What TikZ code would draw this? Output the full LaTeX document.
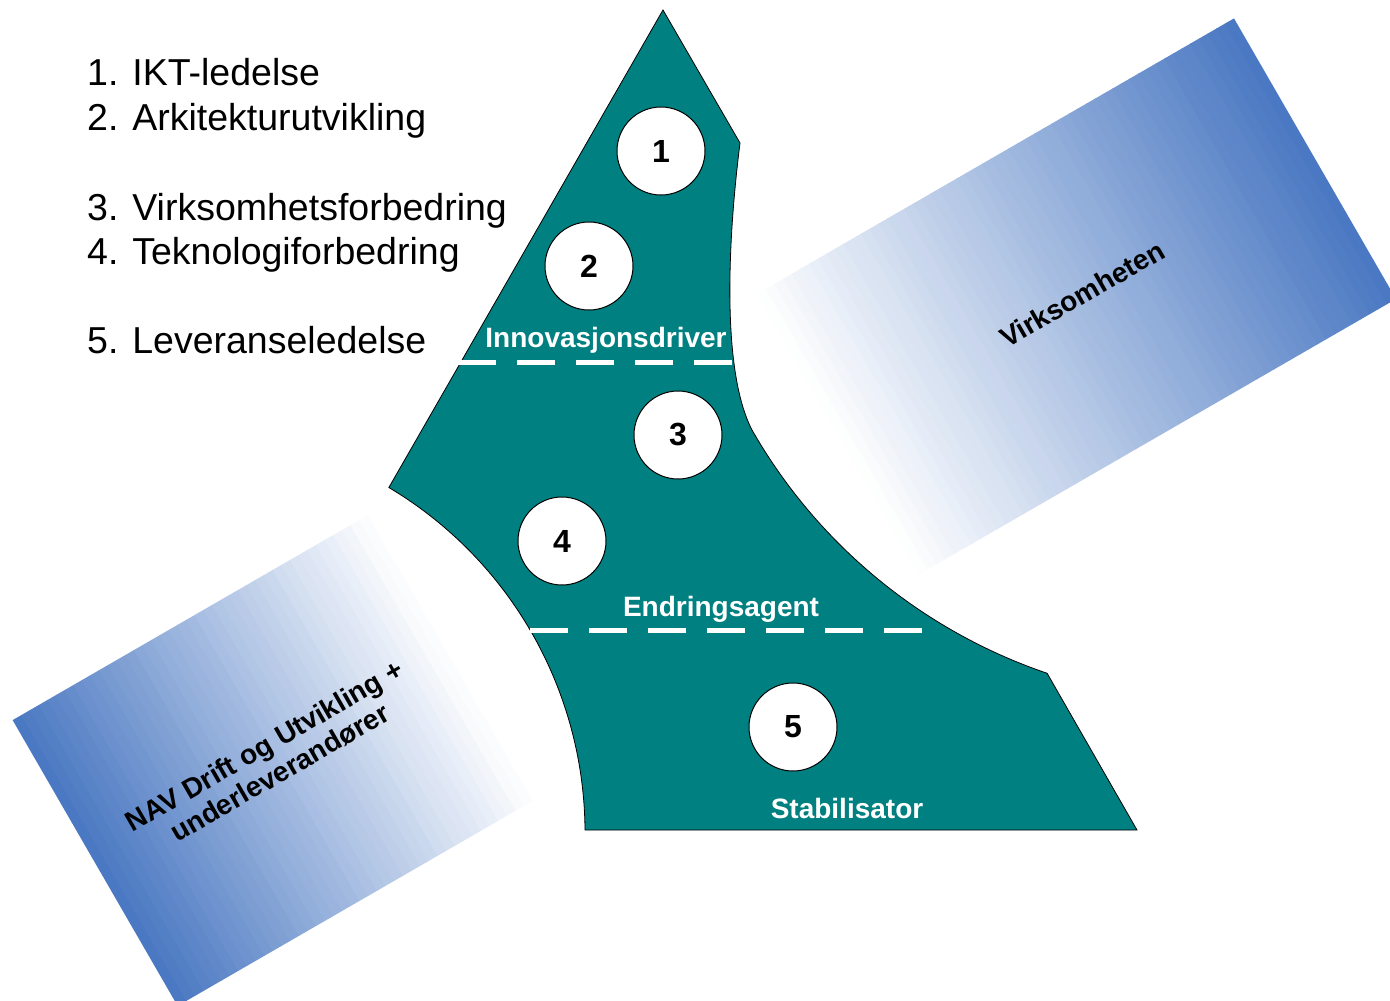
\documentclass[tikz,border=0pt]{standalone}
\usepackage{fontspec}
\setmainfont{Liberation Sans}
\usetikzlibrary{positioning}
\definecolor{navteal}{HTML}{008080}
\definecolor{bandblue}{HTML}{4A78C2}

\begin{document}
\begin{tikzpicture}[x=1pt,y=-1pt,
      bandtext/.style={rotate=30, inner sep=0pt, align=center, font=\fontsize{28}{31}\selectfont\bfseries},
      role/.style={circle, draw=black, line width=1pt, fill=white, minimum size=88pt, inner sep=0pt, font=\fontsize{32}{32}\selectfont\bfseries},
      phase/.style={text=white, anchor=base, inner sep=0pt, font=\fontsize{28}{28}\selectfont\bfseries},
      item/.style={anchor=base west, inner sep=0pt, font=\fontsize{37.5}{40}\selectfont},
      divider/.style={draw=white, line width=5pt, dash pattern=on 38pt off 21pt}
      ]
      \useasboundingbox (0,0) rectangle (1390,1001);
      \clip (0,0) rectangle (1390,1001);
      % bands behind the figure, white to blue
      \begin{scope}[shift={(1072,299)}, rotate=30]
        \foreach \i in {0,...,55} {
          \pgfmathtruncatemacro\pct{100*\i/55}
          \fill[bandblue!\pct!white] (-280+10*\i,-162) rectangle ++(10.6,324);
        }
      \end{scope}
      \begin{scope}[shift={(277,758)}, rotate=30]
        \foreach \i in {0,...,41} {
          \pgfmathtruncatemacro\pct{100-100*\i/41}
          \fill[bandblue!\pct!white] (-210+10*\i,-165) rectangle ++(10.6,330);
        }
      \end{scope}
      \node[bandtext] (virk) at (1082,294) {Virksomheten};
      \node[bandtext] (drift) at (272,759) {NAV Drift og Utvikling +\\underleverandører};
      % the teal figure
      \draw[fill=navteal, line width=0.8pt] (663,10) -- (740,143)
        .. controls (729,230) and (720,368) .. (752,430)
        arc[start angle=150.2, end angle=108.8, radius=541]
        -- (1137,830) -- (585,830)
        arc[start angle=-0.4, end angle=-59.2, radius=402] -- cycle;
      \coordinate (d1a) at (458,362);
      \coordinate (d1b) at (732,362);
      \coordinate (d2a) at (530,630);
      \coordinate (d2b) at (922,630);
      \draw[divider] (d1a) -- (d1b);
      \draw[divider] (d2a) -- (d2b);
      \node[role] (r1) at (661,151) {1};
      \node[role] (r2) at (589,266) {2};
      \node[role] (r3) at (678,435) {3};
      \node[role] (r4) at (562,541) {4};
      \node[role] (r5) at (793,727) {5};
      \node[phase] (innov) at (606,347) {Innovasjonsdriver};
      \node[phase] (endr) at (721,616) {Endringsagent};
      \node[phase] (stab) at (847,818) {Stabilisator};
      % legend
      \node[item] (i1) at (87,85) {1. IKT-ledelse};
      \node[item] (i2) at (87,130) {2. Arkitekturutvikling};
      \node[item] (i3) at (87,220) {3. Virksomhetsforbedring};
      \node[item] (i4) at (87,264) {4. Teknologiforbedring};
      \node[item] (i5) at (87,353) {5. Leveranseledelse};
    \end{tikzpicture}
\end{document}
